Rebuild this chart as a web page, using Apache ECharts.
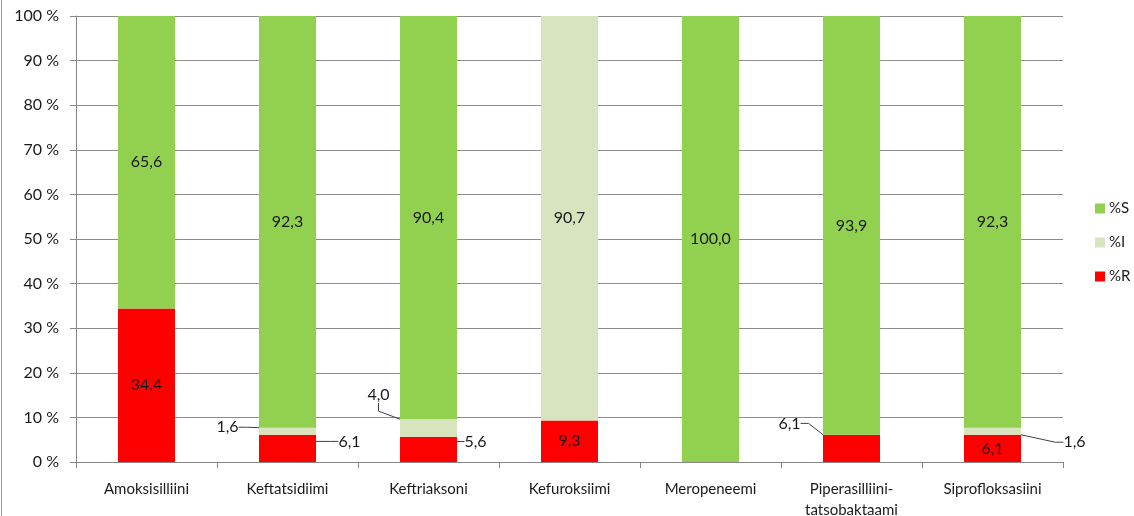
<!DOCTYPE html>
<html lang="fi">
<head>
<meta charset="UTF-8">
<title>Herkkyys</title>
<script src="https://cdn.jsdelivr.net/npm/echarts@6/dist/echarts.min.js"></script>
</head>
<body style="margin:0;width:1134px;height:516px;background:#fff">
<div id="main" style="width:1134px;height:516px"></div>
<script>
var categories = ['Amoksisilliini', 'Keftatsidiimi', 'Keftriaksoni', 'Kefuroksiimi',
    'Meropeneemi', 'Piperasilliini-\ntatsobaktaami', 'Siprofloksasiini'];
var pctR = [34.4, 6.1, 5.6, 9.3, 0, 6.1, 6.1];
var pctI = [0, 1.6, 4.0, 90.7, 0, 0, 1.6];
var pctS = [65.6, 92.3, 90.4, 0, 100.0, 93.9, 92.3];
var yTicks = [0, 10, 20, 30, 40, 50, 60, 70, 80, 90, 100];

// siirretyt selitteet (sarja, kategoria) -> siirto pikseleinä
var callouts = {
    '1-1': [-60, -4],
    '0-1': [62, -7],
    '1-2': [-50, -33],
    '0-2': [47, -8],
    '0-5': [-62, -25],
    '1-6': [82, 11]
};

var FONT = 'Lato';
var myChart = echarts.init(document.getElementById('main'));

function fmt(p) {
    if (!p.value) return '';
    return p.value.toFixed(1).replace('.', ',');
}

function makeData(values, sIdx) {
    return values.map(function (v, i) {
        var item = { value: v };
        if (callouts[sIdx + '-' + i]) {
            item.labelLine = { show: true, length2: 8, lineStyle: { color: '#404040', width: 1 } };
        }
        return item;
    });
}

function series(name, values, sIdx, color) {
    return {
        name: name,
        type: 'bar',
        stack: 'all',
        barWidth: 57,
        data: makeData(values, sIdx),
        itemStyle: { color: color },
        label: {
            show: true,
            position: 'inside',
            formatter: fmt,
            color: '#1a1a1a',
            fontFamily: FONT,
            fontSize: 16
        },
        labelLayout: function (p) {
            var c = callouts[p.seriesIndex + '-' + p.dataIndex];
            return c ? { dx: c[0], dy: c[1] } : {};
        },
        animation: false
    };
}

myChart.setOption({
    textStyle: { fontFamily: FONT },
    grid: { left: 76, right: 71, top: 16, bottom: 54, outerBoundsMode: 'none' },
    legend: {
        orient: 'vertical',
        left: 1090,
        top: 196,
        itemWidth: 10,
        itemHeight: 10,
        itemGap: 19,
        icon: 'rect',
        data: ['%S', '%I', '%R'],
        textStyle: { fontFamily: FONT, fontSize: 15, color: '#1a1a1a', padding: [0, 0, 0, -1] }
    },
    xAxis: {
        type: 'category',
        data: categories,
        axisLine: { lineStyle: { color: '#868686' } },
        axisTick: { show: true, length: 6, lineStyle: { color: '#868686' } },
        axisLabel: { color: '#1a1a1a', fontSize: 15, margin: 17, lineHeight: 21, interval: 0 }
    },
    yAxis: {
        type: 'value',
        min: yTicks[0],
        max: yTicks[yTicks.length - 1],
        interval: 10,
        axisLine: { show: true, lineStyle: { color: '#868686' } },
        axisTick: { show: true, length: 6, lineStyle: { color: '#868686' } },
        axisLabel: { color: '#1a1a1a', fontSize: 16, margin: 17, formatter: '{value} %' },
        splitLine: { lineStyle: { color: '#8c8c8c' } }
    },
    graphic: [{
        type: 'line',
        shape: { x1: 1.5, y1: 0, x2: 1.5, y2: 516 },
        style: { stroke: '#9a9a9a', lineWidth: 1 }
    }],
    series: [
        series('%R', pctR, 0, '#ff0000'),
        series('%I', pctI, 1, '#d7e4bd'),
        series('%S', pctS, 2, '#92d050')
    ]
});
</script>
</body>
</html>
